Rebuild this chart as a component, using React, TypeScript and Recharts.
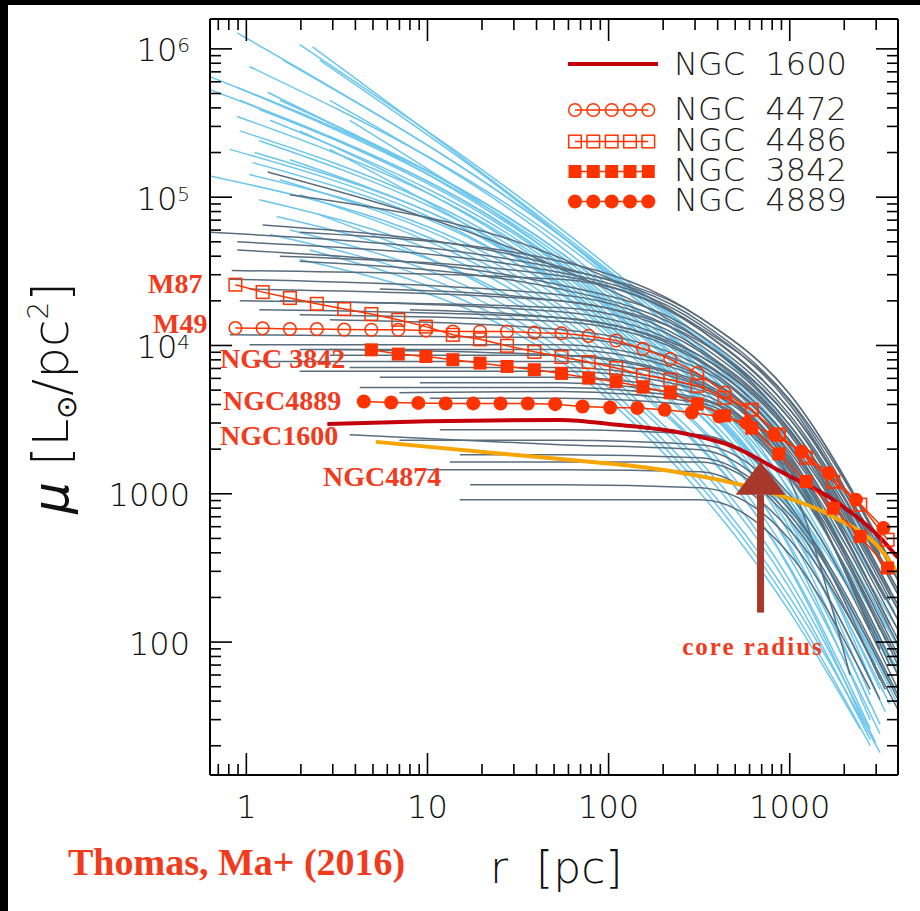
import React from "react";
import { LineChart, Line, XAxis, YAxis } from "recharts";

type Pt = [number, number];

// light-blue (power-law) profiles: [r (pc), mu (Lsun/pc^2)]
const BLUE_PROFILES: Pt[][] = [
  [[2.32, 1.03e6], [100, 3.2e4], [1000, 3.2e3], [3960, 285]],
  [[1.97, 1.07e6], [100, 3.4e4], [1000, 2.9e3], [3960, 225]],
  [[0.89, 1.28e6], [100, 3.1e4], [1000, 2.7e3], [3570, 210]],
  [[1.59, 8.4e5], [100, 3.05e4], [1000, 2.3e3], [3960, 178]],
  [[1.04, 7.6e5], [100, 2.86e4], [1000, 2.14e3], [3800, 160]],
  [[2.54, 8.4e5], [100, 2.95e4], [1000, 2.04e3], [3960, 141]],
  [[0.63, 6.5e5], [100, 2.4e4], [1000, 1.75e3], [3370, 125]],
  [[0.89, 5.5e5], [100, 2.26e4], [1000, 1.57e3], [3960, 96]],
  [[1.31, 5.1e5], [100, 2.1e4], [1000, 1.45e3], [3150, 104]],
  [[0.63, 5.3e5], [100, 2.0e4], [1000, 1.28e3], [3960, 76]],
  [[0.92, 4.5e5], [100, 1.91e4], [1000, 1.19e3], [3570, 70]],
  [[0.89, 3.5e5], [100, 1.74e4], [1000, 1.06e3], [3960, 60]],
  [[1.35, 3.3e5], [100, 1.8e4], [1000, 1.03e3], [2980, 70]],
  [[1.97, 2.8e5], [100, 1.61e4], [1000, 910], [3570, 52]],
  [[1.11, 2.0e5], [100, 1.45e4], [1000, 805], [3960, 44]],
  [[1.18, 2.4e5], [100, 1.45e4], [1000, 760], [3150, 48]],
  [[1.08, 1.71e5], [100, 1.28e4], [1000, 670], [3570, 38]],
  [[1.74, 1.79e5], [100, 1.36e4], [1000, 650], [2780, 44]],
  [[0.81, 2.1e5], [100, 1.22e4], [1000, 590], [3370, 34]],
  [[1.04, 1.42e5], [100, 1.14e4], [1000, 530], [2780, 38]],
  [[0.63, 1.39e5], [100, 9.6e3], [1000, 450], [3150, 28]],
  [[1.53, 1.31e5], [100, 1.01e4], [1000, 430], [2780, 30]],
  [[1.97, 1.04e5], [100, 8.6e3], [1000, 370], [3150, 24]],
  [[1.47, 7.4e4], [100, 7.3e3], [1000, 320], [2780, 26]],
  [[1.18, 9.6e4], [100, 7.8e3], [1000, 310], [2620, 27]],
  [[2.54, 7.6e4], [100, 6.4e3], [1000, 260], [2980, 21]],
  [[1.74, 6.0e4], [100, 5.9e3], [1000, 230], [2780, 22]],
  [[1.35, 5.6e4], [100, 5.2e3], [1000, 200], [3150, 18]],
  [[2.24, 4.4e4], [100, 4.7e3], [1000, 178], [2780, 20]],
  [[1.97, 3.8e4], [100, 4.3e3], [1000, 160], [2450, 26]],
  [[2.89, 2.1e5], [100, 1.38e4], [1000, 910], [3960, 65]],
  [[3.72, 3.3e5], [100, 2.1e4], [1000, 1.57e3], [3960, 121]],
  [[0.92, 2.8e5], [100, 1.54e4], [1000, 840], [3960, 38]],
  [[1.53, 4.5e5], [100, 2.4e4], [1000, 1.64e3], [3960, 92]],
  [[2.89, 4.5e5], [100, 2.52e4], [1000, 1.5e3], [3370, 89]],
  [[1.18, 3.9e5], [100, 1.85e4], [1000, 840], [2980, 47]],
];

// grey (cored) profiles
const GREY_PROFILES: Pt[][] = [
  [[1.31, 1.48e5], [54, 3.3e4], [320, 1.09e4], [1000, 3.2e3], [3960, 210]],
  [[1.74, 1.04e5], [54, 3.9e4], [320, 1.28e4], [1000, 3.7e3], [3960, 260]],
  [[0.63, 5.8e4], [54, 3.3e4], [320, 1.54e4], [1000, 4.7e3], [3570, 360]],
  [[1.23, 6.5e4], [54, 3.4e4], [320, 1.45e4], [1000, 4.3e3], [3960, 280]],
  [[0.89, 5.0e4], [54, 3.1e4], [320, 1.38e4], [1000, 4.0e3], [3370, 310]],
  [[0.83, 3.2e4], [54, 2.8e4], [320, 1.28e4], [1000, 3.7e3], [3960, 225]],
  [[1.53, 4.0e4], [54, 2.95e4], [320, 1.32e4], [1000, 4.2e3], [3150, 390]],
  [[0.89, 4.4e4], [54, 2.56e4], [320, 1.18e4], [1000, 3.4e3], [3960, 210]],
  [[1.97, 3.7e4], [54, 2.4e4], [320, 1.09e4], [1000, 3.2e3], [3570, 225]],
  [[0.81, 2.8e4], [54, 2.2e4], [320, 1.01e4], [1000, 2.9e3], [3960, 165]],
  [[1.04, 2.4e4], [54, 2.0e4], [320, 9.4e3], [1000, 2.7e3], [3150, 225]],
  [[0.92, 2.0e4], [54, 1.8e4], [320, 9.1e3], [1000, 2.7e3], [3960, 165]],
  [[1.53, 2.0e4], [54, 1.69e4], [320, 8.5e3], [1000, 2.5e3], [3370, 193]],
  [[1.18, 1.74e4], [54, 1.54e4], [320, 8.0e3], [1000, 2.3e3], [3960, 141]],
  [[1.97, 1.61e4], [54, 1.45e4], [320, 7.8e3], [1000, 2.24e3], [3150, 178]],
  [[2.89, 1.49e4], [54, 1.28e4], [320, 7.3e3], [1000, 2.1e3], [3960, 121]],
  [[0.81, 1.18e4], [54, 1.13e4], [320, 6.9e3], [1000, 2.04e3], [3570, 131]],
  [[1.04, 1.01e4], [54, 1.01e4], [320, 6.3e3], [1000, 1.92e3], [3960, 104]],
  [[1.97, 9.4e3], [54, 9.4e3], [320, 6.1e3], [1000, 1.83e3], [3150, 121]],
  [[2.89, 8.6e3], [54, 8.6e3], [320, 5.7e3], [1000, 1.75e3], [3960, 96]],
  [[1.18, 7.8e3], [54, 7.8e3], [320, 5.4e3], [1000, 1.69e3], [3370, 104]],
  [[3.72, 7.1e3], [54, 7.1e3], [320, 5.2e3], [1000, 1.62e3], [3960, 82]],
  [[1.97, 6.7e3], [54, 6.7e3], [320, 5.0e3], [1000, 1.57e3], [2780, 121]],
  [[5.46, 6.1e3], [54, 6.1e3], [320, 4.7e3], [1000, 1.5e3], [3960, 76]],
  [[9.1, 5.6e3], [54, 5.6e3], [320, 4.4e3], [1000, 1.45e3], [3150, 89]],
  [[4.23, 5.2e3], [54, 5.2e3], [320, 4.3e3], [1000, 1.41e3], [3960, 70]],
  [[7.0, 4.8e3], [54, 4.9e3], [320, 4.1e3], [1000, 1.34e3], [3570, 70]],
  [[10.3, 4.4e3], [54, 4.4e3], [320, 3.9e3], [1000, 1.28e3], [3960, 60]],
  [[11.7, 2.7e3], [54, 2.7e3], [320, 2.5e3], [1000, 980], [3960, 48]],
  [[7.0, 2.3e3], [54, 2.3e3], [320, 2.14e3], [1000, 840], [3150, 56]],
  [[15.1, 1.83e3], [54, 1.83e3], [320, 1.75e3], [1000, 720], [3960, 41]],
  [[13.3, 1.64e3], [54, 1.64e3], [320, 1.64e3], [1000, 670], [3370, 48]],
  [[9.1, 1.45e3], [54, 1.45e3], [320, 1.41e3], [1000, 570], [3960, 35]],
  [[17.2, 1.15e3], [54, 1.15e3], [320, 1.1e3], [1000, 490], [3150, 41]],
  [[15.1, 910], [54, 910], [320, 910], [1000, 390], [2780, 48]],
  [[3.72, 2.5e3], [54, 2.14e3], [320, 1.98e3], [1000, 780], [3960, 44]],
  [[2.89, 9.4e3], [54, 8.6e3], [320, 5.5e3], [1000, 1.24e3], [2150, 60]],
  [[1.97, 5.8e4], [54, 3.7e4], [320, 1.54e4], [1000, 4.7e3], [3960, 263]],
  [[5.46, 2.4e4], [54, 2.0e4], [320, 1.06e4], [1000, 2.9e3], [3960, 178]],
  [[8.0, 1.74e4], [54, 1.54e4], [320, 8.5e3], [1000, 2.6e3], [3570, 193]],
];

// radii of the marker grid shared by NGC 4486 / 4472 / 3842
const GRID_R = [0.87, 1.23, 1.74, 2.45, 3.47, 4.9, 6.9, 9.8, 13.8, 19.5, 27.5, 38.9, 55, 77.6, 110, 155, 219, 309, 437, 617, 871, 1230, 1740, 2450, 3470];
const N4486_MU = [25700, 22900, 20900, 19100, 17600, 16300, 14900, 13400, 11800, 11000, 9950, 9060, 8360, 7730, 7040, 6340, 5870, 5350, 4440, 3690, 2510, 1750, 1205, 845, 490];
const N4472_MU = [13100, 13050, 12900, 12900, 12800, 12760, 12760, 12600, 12420, 12420, 12420, 12200, 12100, 11600, 10800, 9500, 8090, 6510, 4820, 3680, 2500, 1790, 1210];
const N3842_MU = [9350, 8750, 8430, 8020, 7610, 7220, 6860, 6480, 6030, 5700, 5240, 4800, 4030, 3360, 2770, 1860, 1210, 800, 515, 316];
const N4889_R = [4.45, 6.3, 8.9, 12.6, 17.9, 25.3, 35.8, 50.7, 71.8, 102, 144, 204, 288, 408, 578, 818, 1160, 1640, 2320, 3290];
const N4889_MU = [4190, 4130, 4100, 4070, 4070, 4060, 4060, 4020, 3880, 3820, 3790, 3680, 3530, 3320, 3000, 2500, 1930, 1380, 912, 587];
const N1600: Pt[] = [[2.8, 2960], [10, 3080], [54, 3150], [111, 2920], [258, 2560], [488, 2080], [922, 1380], [1740, 910], [3290, 480], [3960, 370]];
const N4874: Pt[] = [[5.2, 2240], [47, 1740], [169, 1490], [488, 1180], [922, 960], [1740, 700], [3290, 400], [3960, 290]];

// core radius arrow: shaft and head tip
const ARROW_SHAFT: Pt[] = [[690, 158], [690, 990]];
const ARROW_TIP: Pt[] = [[690, 1645]];

const X_MAJOR = [1, 10, 100, 1000];
const X_TICKS = [0.7, 0.8, 0.9, 1, 2, 3, 4, 5, 6, 7, 8, 9, 10, 20, 30, 40, 50, 60, 70, 80, 90, 100, 200, 300, 400, 500, 600, 700, 800, 900, 1000, 2000, 3000];
const Y_MAJOR = [100, 1000, 1e4, 1e5, 1e6];
const Y_TICKS = [20, 30, 40, 50, 60, 70, 80, 90, 100, 200, 300, 400, 500, 600, 700, 800, 900, 1000, 2000, 3000, 4000, 5000, 6000, 7000, 8000, 9000, 1e4, 2e4, 3e4, 4e4, 5e4, 6e4, 7e4, 8e4, 9e4, 1e5, 2e5, 3e5, 4e5, 5e5, 6e5, 7e5, 8e5, 9e5, 1e6];
const Y_EXP: Record<number, string> = { 10000: "4", 100000: "5", 1000000: "6" };

const BLUE = "#6cc6ec";
const GREY = "#5a6d7d";
const RED = "#ff3300";
const LABEL_RED = "#f23a1c";
const SANS = "'DejaVu Sans', 'Liberation Sans', sans-serif";
const SERIF = "'Liberation Serif', 'Times New Roman', serif";

const toRows = (pts: Pt[]) => pts.map(([r, mu]) => ({ r, mu }));
const zipRows = (rs: number[], mus: number[]) => mus.map((mu, i) => ({ r: rs[i], mu }));

function BottomTick(props: any) {
  const { x, y, payload } = props;
  const major = X_MAJOR.includes(payload.value);
  return (
    <g>
      <line x1={x} x2={x} y1={y} y2={y - (major ? 22 : 11)} stroke="#000" strokeWidth={1.6} />
      {major && (
        <text x={x} y={y + 43} textAnchor="middle" fontSize={32} fontFamily={SANS} fontWeight={200} fill="#111">
          {String(payload.value)}
        </text>
      )}
    </g>
  );
}

function TopTick(props: any) {
  const { x, y, payload } = props;
  const major = X_MAJOR.includes(payload.value);
  return <line x1={x} x2={x} y1={y} y2={y + (major ? 22 : 11)} stroke="#000" strokeWidth={1.6} />;
}

function LeftTick(props: any) {
  const { x, y, payload } = props;
  const v = payload.value;
  const major = Y_MAJOR.includes(v);
  const exp = Y_EXP[v];
  return (
    <g>
      <line x1={x} x2={x + (major ? 22 : 11)} y1={y} y2={y} stroke="#000" strokeWidth={1.6} />
      {major && (
        <text x={x - 20} y={y + 12.5} textAnchor="end" fontSize={32} fontFamily={SANS} fontWeight={200} fill="#111">
          {exp ? "10" : String(v)}
          {exp && (
            <tspan fontSize={20} dy={-9}>
              {exp}
            </tspan>
          )}
        </text>
      )}
    </g>
  );
}

function RightTick(props: any) {
  const { x, y, payload } = props;
  const major = Y_MAJOR.includes(payload.value);
  return <line x1={x} x2={x - (major ? 22 : 11)} y1={y} y2={y} stroke="#000" strokeWidth={1.6} />;
}

const openCircle = (p: any) => (
  <circle key={`oc${p.index}`} cx={p.cx} cy={p.cy} r={6.3} fill="none" stroke={RED} strokeWidth={1.5} />
);
const openSquare = (p: any) => (
  <rect key={`os${p.index}`} x={p.cx - 6.3} y={p.cy - 6.3} width={12.6} height={12.6} fill="none" stroke={RED} strokeWidth={1.5} />
);
const fullSquare = (p: any) => (
  <rect key={`fs${p.index}`} x={p.cx - 6.5} y={p.cy - 6.5} width={13} height={13} fill={RED} />
);
const fullCircle = (p: any) => <circle key={`fc${p.index}`} cx={p.cx} cy={p.cy} r={7} fill={RED} />;
const arrowHead = (p: any) => (
  <polygon
    key={`ah${p.index}`}
    points={`${p.cx},${p.cy} ${p.cx - 25},${p.cy + 33} ${p.cx + 25},${p.cy + 33}`}
    fill="#a8382a"
  />
);

const LEGEND_MARKERS = [
  { name: "NGC  4472", y: 110, shape: "oc" },
  { name: "NGC  4486", y: 141.5, shape: "os" },
  { name: "NGC  3842", y: 171.5, shape: "fs" },
  { name: "NGC  4889", y: 201.5, shape: "fc" },
];
const LEGEND_X = [575, 593.3, 611.7, 630, 648.3];

const GALAXY_LABELS = [
  { text: "M87", x: 148, y: 293 },
  { text: "M49", x: 153, y: 333 },
  { text: "NGC 3842", x: 220, y: 368 },
  { text: "NGC4889", x: 223, y: 410 },
  { text: "NGC1600", x: 220, y: 445 },
  { text: "NGC4874", x: 323, y: 486 },
];

function legendMarker(shape: string, x: number, y: number, key: number) {
  if (shape === "oc") return <circle key={key} cx={x} cy={y} r={6.3} fill="none" stroke={RED} strokeWidth={1.5} />;
  if (shape === "os") return <rect key={key} x={x - 6.3} y={y - 6.3} width={12.6} height={12.6} fill="none" stroke={RED} strokeWidth={1.5} />;
  if (shape === "fs") return <rect key={key} x={x - 6.5} y={y - 6.5} width={13} height={13} fill={RED} />;
  return <circle key={key} cx={x} cy={y} r={7} fill={RED} />;
}

export default function App() {
  const common = { xAxisId: "b", yAxisId: "l", dataKey: "mu", isAnimationActive: false, activeDot: false } as const;
  const axisLine = { stroke: "#000", strokeWidth: 2 };
  return (
    <div style={{ position: "absolute", left: 0, top: 0, width: 920, height: 911, background: "#000", overflow: "hidden" }}>
      <div style={{ position: "absolute", left: 8, top: 5, right: 0, bottom: 0, background: "#fff" }} />
      <div style={{ position: "absolute", left: 0, top: 0 }}>
        <LineChart width={920} height={911} margin={{ top: 18, right: 21, bottom: 135, left: 209 }}>
          <XAxis
            xAxisId="b"
            type="number"
            dataKey="r"
            scale="log"
            domain={[0.63, 3960]}
            allowDataOverflow
            ticks={X_TICKS}
            interval={0}
            height={1}
            tickSize={0}
            tickMargin={0}
            tickLine={false}
            axisLine={axisLine}
            tick={<BottomTick />}
          />
          <XAxis
            xAxisId="t"
            orientation="top"
            type="number"
            dataKey="r"
            scale="log"
            domain={[0.63, 3960]}
            allowDataOverflow
            ticks={X_TICKS}
            interval={0}
            height={1}
            tickSize={0}
            tickMargin={0}
            tickLine={false}
            axisLine={axisLine}
            tick={<TopTick />}
          />
          <YAxis
            yAxisId="l"
            type="number"
            scale="log"
            domain={[12.7, 1.59e6]}
            allowDataOverflow
            ticks={Y_TICKS}
            interval={0}
            width={1}
            tickSize={0}
            tickMargin={0}
            tickLine={false}
            axisLine={axisLine}
            tick={<LeftTick />}
          />
          <YAxis
            yAxisId="r"
            orientation="right"
            type="number"
            scale="log"
            domain={[12.7, 1.59e6]}
            allowDataOverflow
            ticks={Y_TICKS}
            interval={0}
            width={1}
            tickSize={0}
            tickMargin={0}
            tickLine={false}
            axisLine={axisLine}
            tick={<RightTick />}
          />

          {BLUE_PROFILES.map((p, i) => (
            <Line key={`b${i}`} {...common} data={toRows(p)} type="monotone" stroke={BLUE} strokeWidth={1.5} dot={false} />
          ))}
          {GREY_PROFILES.map((p, i) => (
            <Line key={`g${i}`} {...common} data={toRows(p)} type="monotone" stroke={GREY} strokeWidth={1.5} dot={false} />
          ))}

          <Line {...common} data={toRows(N4874)} type="monotone" stroke="#f7a500" strokeWidth={4} dot={false} />
          <Line {...common} data={toRows(N1600)} type="monotone" stroke="#c4000c" strokeWidth={4} dot={false} />
          <Line {...common} data={zipRows(GRID_R, N4486_MU)} type="linear" stroke={RED} strokeWidth={1.5} dot={openSquare} />
          <Line {...common} data={zipRows(GRID_R, N4472_MU)} type="linear" stroke={RED} strokeWidth={1.5} dot={openCircle} />
          <Line {...common} data={zipRows(GRID_R.slice(5), N3842_MU)} type="linear" stroke={RED} strokeWidth={1.5} dot={fullSquare} />
          <Line {...common} data={zipRows(N4889_R, N4889_MU)} type="linear" stroke={RED} strokeWidth={1.5} dot={fullCircle} />

          <Line {...common} data={toRows(ARROW_SHAFT)} type="linear" stroke="#a8382a" strokeWidth={7} dot={false} />
          <Line {...common} data={toRows(ARROW_TIP)} type="linear" stroke="none" dot={arrowHead} />
        </LineChart>
      </div>

      <svg width={920} height={911} style={{ position: "absolute", left: 0, top: 0, pointerEvents: "none" }}>
        {/* legend */}
        <line x1={568} x2={658} y1={64} y2={64} stroke="#c4000c" strokeWidth={4} />
        <text x={674} y={75} fontSize={32} fontFamily={SANS} fontWeight={200} fill="#222" style={{ whiteSpace: "pre" }}>
          NGC  1600
        </text>
        {LEGEND_MARKERS.map((m) => (
          <g key={m.name}>
            <line x1={575} x2={648.3} y1={m.y} y2={m.y} stroke={RED} strokeWidth={1.5} />
            {LEGEND_X.map((x, i) => legendMarker(m.shape, x, m.y, i))}
            <text x={674} y={m.y + 9.5} fontSize={32} fontFamily={SANS} fontWeight={200} fill="#222" style={{ whiteSpace: "pre" }}>
              {m.name}
            </text>
          </g>
        ))}

        {/* galaxy labels */}
        {GALAXY_LABELS.map((l) => (
          <text key={l.text} x={l.x} y={l.y} fontSize={28} fontFamily={SERIF} fontWeight="bold" fill={LABEL_RED}>
            {l.text}
          </text>
        ))}
        <text x={753} y={655} textAnchor="middle" fontSize={25} fontFamily={SERIF} fontWeight="bold" fill={LABEL_RED} letterSpacing={2}>
          core radius
        </text>
        <text x={68} y={875} fontSize={38} fontFamily={SERIF} fontWeight="bold" fill={LABEL_RED}>
          Thomas, Ma+ (2016)
        </text>

        {/* axis titles */}
        <text x={490} y={883} fontSize={44} fontFamily={SANS} fontWeight={200} fill="#111" style={{ whiteSpace: "pre" }}>
          r  [pc]
        </text>
        <text
          transform="translate(68,398) rotate(-90)"
          textAnchor="middle"
          fontSize={50}
          fontFamily={SANS}
          fontWeight={200}
          fill="#111"
        >
          <tspan fontStyle="italic">μ</tspan> [L
          <tspan fontSize={28} dy={8}>⊙</tspan>
          <tspan dy={-8}>/pc</tspan>
          <tspan fontSize={28} dy={-20}>2</tspan>
          <tspan dy={20}>]</tspan>
        </text>
      </svg>
    </div>
  );
}
